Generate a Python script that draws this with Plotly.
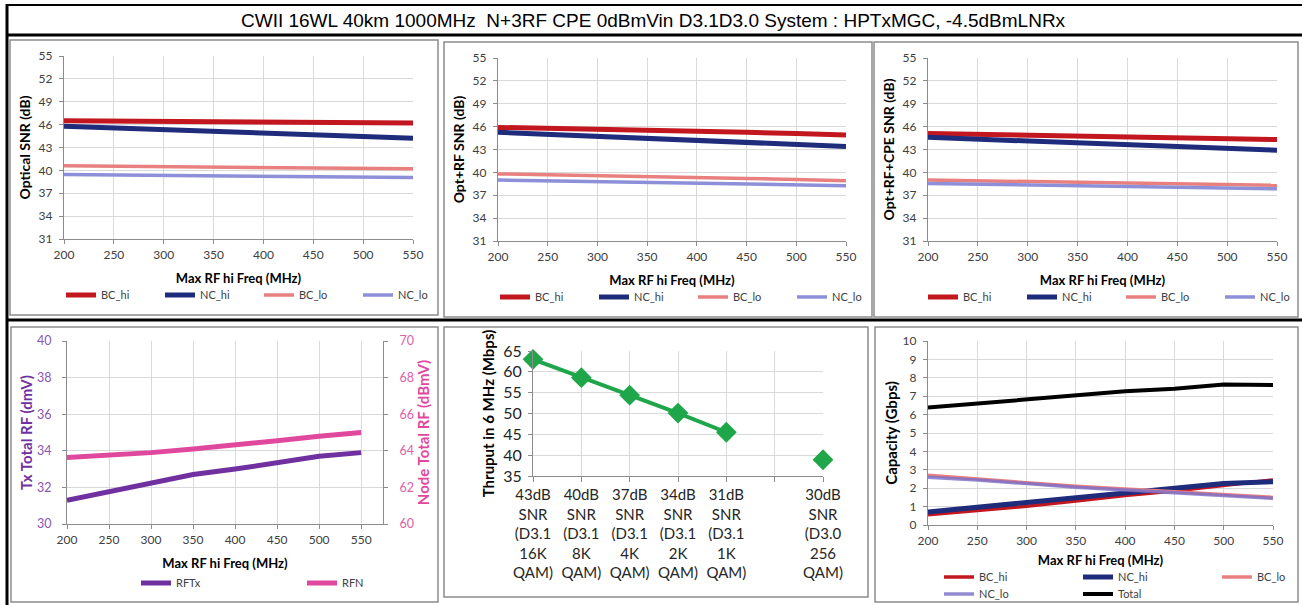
import plotly.graph_objects as go

W, H = 1302, 605


def fx(p):
    return p / W


def fy(p):
    return 1 - p / H


# ---------------- data ----------------
freq = [200, 250, 300, 350, 400, 450, 500, 550]

# Optical SNR (dB)
opt_bc_hi = [46.5, 46.45, 46.4, 46.35, 46.3, 46.25, 46.2, 46.2]
opt_nc_hi = [45.8, 45.6, 45.4, 45.15, 44.95, 44.7, 44.45, 44.2]
opt_bc_lo = [40.6, 40.55, 40.5, 40.45, 40.4, 40.3, 40.25, 40.2]
opt_nc_lo = [39.45, 39.4, 39.35, 39.3, 39.25, 39.15, 39.1, 39.05]

# Opt+RF SNR (dB)
rf_bc_hi = [45.9, 45.8, 45.65, 45.5, 45.4, 45.25, 45.1, 44.9]
rf_nc_hi = [45.25, 45.0, 44.75, 44.5, 44.25, 44.0, 43.7, 43.4]
rf_bc_lo = [39.8, 39.7, 39.6, 39.5, 39.35, 39.2, 39.05, 38.9]
rf_nc_lo = [39.0, 38.9, 38.8, 38.7, 38.6, 38.5, 38.4, 38.25]

# Opt+RF+CPE SNR (dB)
cpe_bc_hi = [45.1, 45.0, 44.9, 44.8, 44.7, 44.6, 44.45, 44.3]
cpe_nc_hi = [44.6, 44.35, 44.1, 43.9, 43.65, 43.4, 43.15, 42.9]
cpe_bc_lo = [39.0, 38.9, 38.8, 38.7, 38.6, 38.5, 38.4, 38.3]
cpe_nc_lo = [38.55, 38.45, 38.35, 38.25, 38.15, 38.05, 37.95, 37.85]

# Total RF levels
rf_tx = [31.3, 31.75, 32.2, 32.7, 33.0, 33.35, 33.7, 33.9]          # dmV (left)
rf_node = [63.64, 63.76, 63.9, 64.1, 64.3, 64.55, 64.8, 65.0]       # dBmV (right)

# Throughput per 6 MHz
snr_labels = [
    "43dB<br>SNR<br>(D3.1<br>16K<br>QAM)",
    "40dB<br>SNR<br>(D3.1<br>8K<br>QAM)",
    "37dB<br>SNR<br>(D3.1<br>4K<br>QAM)",
    "34dB<br>SNR<br>(D3.1<br>2K<br>QAM)",
    "31dB<br>SNR<br>(D3.1<br>1K<br>QAM)",
    "",
    "30dB<br>SNR<br>(D3.0<br>256<br>QAM)",
]
thruput = [63.0, 58.6, 54.4, 50.1, 45.5, None, 38.9]

# Capacity (Gbps)
cap_bc_hi = [0.55, 0.78, 1.02, 1.3, 1.6, 1.85, 2.17, 2.45]
cap_nc_hi = [0.7, 0.95, 1.2, 1.45, 1.72, 1.99, 2.26, 2.35]
cap_bc_lo = [2.7, 2.5, 2.3, 2.1, 1.95, 1.8, 1.65, 1.5]
cap_nc_lo = [2.6, 2.45, 2.25, 2.05, 1.9, 1.75, 1.6, 1.45]
cap_total = [6.38, 6.6, 6.82, 7.03, 7.27, 7.41, 7.63, 7.61]

# ---------------- styles ----------------
C_BC_HI = "#C3171F"
C_NC_HI = "#1F2B7B"
C_BC_LO = "#E98080"
C_NC_LO = "#8D90D8"
C_TX = "#7030A0"
C_RFN = "#E0489E"
C_GREEN = "#1FA64A"
FONT = "Lato"
GRID = "#D9D9D9"
AXIS = "#8C8C8C"
TXT = "#404040"

fig = go.Figure()


def snr_panel(ax, leg, bc_hi, nc_hi, bc_lo, nc_lo):
    xa = "x" if ax == 1 else f"x{ax}"
    ya = "y" if ax == 1 else f"y{ax}"
    for name, vals, col, wd in [
        ("BC_hi", bc_hi, C_BC_HI, 5),
        ("NC_hi", nc_hi, C_NC_HI, 5),
        ("BC_lo", bc_lo, C_BC_LO, 3.5),
        ("NC_lo", nc_lo, C_NC_LO, 3.5),
    ]:
        fig.add_trace(go.Scatter(x=freq, y=vals, name=name, mode="lines",
                                 line=dict(color=col, width=wd),
                                 xaxis=xa, yaxis=ya, legend=leg))


snr_panel(1, "legend", opt_bc_hi, opt_nc_hi, opt_bc_lo, opt_nc_lo)
snr_panel(2, "legend2", rf_bc_hi, rf_nc_hi, rf_bc_lo, rf_nc_lo)
snr_panel(3, "legend3", cpe_bc_hi, cpe_nc_hi, cpe_bc_lo, cpe_nc_lo)

# Panel 4
fig.add_trace(go.Scatter(x=freq, y=rf_tx, name="RFTx", mode="lines",
                         line=dict(color=C_TX, width=5),
                         xaxis="x4", yaxis="y4", legend="legend4"))
fig.add_trace(go.Scatter(x=freq, y=rf_node, name="RFN", mode="lines",
                         line=dict(color=C_RFN, width=5),
                         xaxis="x4", yaxis="y7", legend="legend4"))

# Panel 5
fig.add_trace(go.Scatter(x=list(range(len(thruput))), y=thruput, mode="lines+markers",
                         line=dict(color=C_GREEN, width=4),
                         marker=dict(symbol="diamond", size=16, color=C_GREEN),
                         connectgaps=False, showlegend=False, cliponaxis=False,
                         xaxis="x5", yaxis="y5"))

# Panel 6
for name, vals, col, wd, leg in [
    ("BC_hi", cap_bc_hi, C_BC_HI, 3.5, "legend5"),
    ("NC_hi", cap_nc_hi, C_NC_HI, 5, "legend5"),
    ("BC_lo", cap_bc_lo, C_BC_LO, 3.5, "legend5"),
    ("NC_lo", cap_nc_lo, "rgba(120,110,200,0.8)", 3.5, "legend6"),
    ("Total", cap_total, "#000000", 4, "legend6"),
]:
    fig.add_trace(go.Scatter(x=freq, y=vals, name=name, mode="lines",
                             line=dict(color=col, width=wd),
                             xaxis="x6", yaxis="y6", legend=leg))

# ---------------- axes ----------------
tickfont = dict(family=FONT, size=12, color=TXT)
titlefont = dict(family=FONT, size=13, color="#000000")
ytitlefont = dict(family=FONT, size=14, color="#000000")


def xax(dom, rng, anchor, title, dtick=50, tf=tickfont, standoff=13):
    return dict(domain=[fx(dom[0]), fx(dom[1])], range=rng, anchor=anchor,
                dtick=dtick, tick0=200, showgrid=True, gridcolor=GRID, gridwidth=1,
                showline=True, linecolor=AXIS, linewidth=1.2, ticks="outside",
                ticklen=4, tickcolor=AXIS, tickfont=tf, zeroline=False, automargin=False,
                title=dict(text=title, font=titlefont, standoff=standoff))


def yax(dom, rng, anchor, title, dtick, tick0, tf=tickfont, ttf=ytitlefont,
        standoff=4, tls=4):
    return dict(domain=[fy(dom[1]), fy(dom[0])], range=rng, anchor=anchor,
                dtick=dtick, tick0=tick0, showgrid=True, gridcolor=GRID, gridwidth=1,
                showline=True, linecolor=AXIS, linewidth=1.2, ticks="outside",
                ticklen=4, tickcolor=AXIS, tickfont=tf, zeroline=False, automargin=False,
                ticklabelstandoff=tls,
                title=dict(text=title, font=ttf, standoff=standoff))


xt = "<b>Max RF hi Freq (MHz)</b>"
layout = dict(
    xaxis=xax((64, 413), [200, 550], "y", xt),
    yaxis=yax((56, 239), [31, 55], "x", "<b>Optical SNR (dB)</b>", 3, 31),
    xaxis2=xax((498, 846), [200, 550], "y2", xt),
    yaxis2=yax((58, 241), [31, 55], "x2", "<b>Opt+RF SNR (dB)</b>", 3, 31),
    xaxis3=xax((928, 1277), [200, 550], "y3", xt),
    yaxis3=yax((58, 241), [31, 55], "x3", "<b>Opt+RF+CPE SNR (dB)</b>", 3, 31),
    xaxis4=xax((67, 383), [200, 576], "y4", xt),
    yaxis4=yax((341, 524), [30, 40], "x4", "<b>Tx Total RF (dmV)</b>", 2, 30,
               tf=dict(family=FONT, size=12.5, color="#8A55B5"),
               ttf=dict(family=FONT, size=15, color=C_TX), standoff=0, tls=8),
    yaxis7=dict(overlaying="y4", side="right", anchor="x4", range=[60, 70], dtick=2, tick0=60,
                showgrid=False, showline=True, linecolor=AXIS, linewidth=1.2,
                ticks="outside", ticklen=4, tickcolor=AXIS, zeroline=False, automargin=False,
                ticklabelstandoff=9,
                tickfont=dict(family=FONT, size=12.5, color="#E060A8"),
                title=dict(text="<b>Node Total RF (dBmV)</b>",
                           font=dict(family=FONT, size=15, color=C_RFN), standoff=4)),
    xaxis5=dict(domain=[fx(533), fx(823)], range=[0, 6], anchor="y5",
                tickvals=list(range(len(snr_labels))), ticktext=snr_labels,
                showgrid=True, gridcolor=GRID, showline=True, linecolor=AXIS, linewidth=1.2,
                ticks="outside", ticklen=5, tickcolor=AXIS, zeroline=False, automargin=False,
                tickfont=dict(family=FONT, size=15, color="#262626"), tickangle=0),
    yaxis5=yax((351, 476), [35, 65], "x5", "<b>Thruput in 6 MHz (Mbps)</b>", 5, 35,
               tf=dict(family=FONT, size=16, color="#262626"),
               ttf=dict(family=FONT, size=15, color="#000000"), tls=3),
    xaxis6=xax((928, 1273), [200, 550], "y6", xt, standoff=9),
    yaxis6=yax((341, 525), [0, 10], "x6", "<b>Capacity (Gbps)</b>", 1, 0,
               ttf=dict(family=FONT, size=15, color="#000000"), standoff=1),
)


def leg(x, y, ew):
    return dict(x=fx(x), y=fy(y), xanchor="left", yanchor="middle", orientation="h",
                entrywidth=ew, entrywidthmode="pixels", bgcolor="rgba(0,0,0,0)",
                font=dict(family=FONT, size=11, color=TXT), tracegroupgap=0,
                itemclick=False, itemdoubleclick=False)


layout.update(
    legend=leg(61, 295, 54),
    legend2=leg(495, 297, 54),
    legend3=leg(923, 297, 54),
    legend4=leg(136, 583, 121),
    legend5=leg(939, 577, 94),
    legend6=leg(939, 594, 94),
)

# ---------------- frames ----------------
shapes = []


def box(x0, y0, x1, y1, color="#8C8C8C", width=1.5):
    shapes.append(dict(type="rect", xref="paper", yref="paper",
                       x0=fx(x0), x1=fx(x1), y0=fy(y1), y1=fy(y0),
                       line=dict(color=color, width=width), fillcolor="rgba(0,0,0,0)",
                       layer="below"))


def hline(y, x0, x1, width, color="#000000"):
    shapes.append(dict(type="line", xref="paper", yref="paper",
                       x0=fx(x0), x1=fx(x1), y0=fy(y), y1=fy(y),
                       line=dict(color=color, width=width)))


def vline(x, y0, y1, width, color="#000000"):
    shapes.append(dict(type="line", xref="paper", yref="paper",
                       x0=fx(x), x1=fx(x), y0=fy(y0), y1=fy(y1),
                       line=dict(color=color, width=width)))


hline(5, 7, 1302, 2)
hline(35, 7, 1302, 3)
hline(320, 7, 1302, 3)
vline(7, 4, 605, 3)

box(10, 40, 438, 315)
box(444, 42, 872, 317)
box(874, 42, 1298, 317)
box(11, 327, 438, 602)
box(444, 327, 868, 597)
box(875, 327, 1298, 602)

annotations = [dict(
    text="CWII 16WL 40km 1000MHz \u00a0N+3RF CPE 0dBmVin D3.1D3.0 System : HPTxMGC, -4.5dBmLNRx",
    xref="paper", yref="paper", x=fx(653), y=fy(21), xanchor="center", yanchor="middle",
    showarrow=False, font=dict(family="Liberation Sans", size=19, color="#000000"))]

fig.update_layout(
    **layout,
    width=W, height=H,
    margin=dict(l=0, r=0, t=0, b=0, autoexpand=False),
    paper_bgcolor="#FFFFFF", plot_bgcolor="rgba(0,0,0,0)",
    shapes=shapes, annotations=annotations,
    showlegend=True,
)

fig.write_html("out.html")
